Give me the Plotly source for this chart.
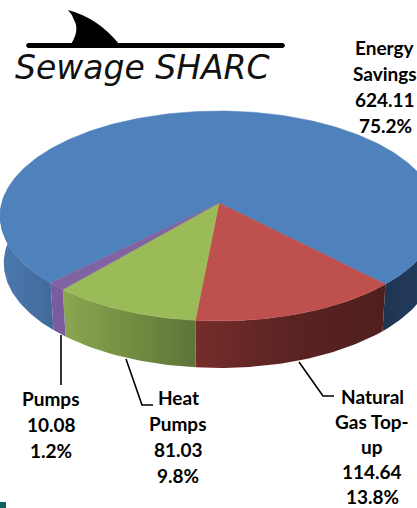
import numpy as np
import plotly.graph_objects as go

categories = ["Energy Savings", "Natural Gas Top-up", "Heat Pumps", "Pumps"]
values = [624.11, 114.64, 81.03, 10.08]
percents = ["75.2%", "13.8%", "9.8%", "1.2%"]
top_colors = ["#4F81BD", "#BE504D", "#9BBB59", "#8064A2"]
label_lines = [["Energy", "Savings"], ["Natural", "Gas Top-", "up"], ["Heat", "Pumps"], ["Pumps"]]
value_text = ["624.11", "114.64", "81.03", "10.08"]

W, H = 417, 508
CX, CY, A, B, K = 219.0, 203.0, 217.3, 103.4, 0.1236
DEPTH, SHRINK = 47.0, 0.983
FIRST_SLICE_ANGLE = 225.0   # clockwise from twelve o'clock


def top(theta):
    u, v = np.cos(theta), np.sin(theta)
    w = 1 + K * v
    return CX + A * u / w, CY - B * v / w


def bottom(theta):
    x, y = top(theta)
    return CX + (x - CX) * SHRINK, y + DEPTH


def arc(a0, a1):
    n = max(4, int(abs(a1 - a0) * 60))
    return np.linspace(a0, a1, n)


fig = go.Figure()


def wall(a0, a1, stops):
    t = arc(a0, a1)
    xt, yt = top(t)
    xb, yb = bottom(t[::-1])
    fig.add_trace(go.Scatter(
        x=np.r_[xt, xb, xt[0]], y=np.r_[yt, yb, yt[0]], mode="lines", fill="toself",
        line=dict(width=0), hoverinfo="skip", showlegend=False,
        fillgradient=dict(type="horizontal", colorscale=stops)))


fractions = np.array(values) / sum(values)
start = np.pi / 2 - np.radians(FIRST_SLICE_ANGLE)
edges = start - np.r_[0, np.cumsum(fractions)] * 2 * np.pi

# side walls: the large slice wraps behind and shows at both ends
wall(edges[0], -np.pi - 0.1, [[0, "#4C79AF"], [1, "#41699B"]])
wall(edges[1], -2 * np.pi + 0.1, [[0, "#1F3450"], [0.5, "#223A5A"], [1, "#263F60"]])
wall(edges[1], edges[2], [[0, "#762D2B"], [0.5, "#5A2322"], [1, "#4F1F1E"]])
wall(edges[2], edges[3], [[0, "#8AA751"], [0.5, "#748D41"], [1, "#5E743A"]])
wall(edges[3], edges[4], [[0, "#7A5C9E"], [1, "#7A5C9E"]])

# top faces
for i, c in enumerate(top_colors):
    t = arc(edges[i], edges[i + 1])
    x, y = top(t)
    fig.add_trace(go.Scatter(
        x=np.r_[CX, x, CX], y=np.r_[CY, y, CY], mode="lines", fill="toself",
        fillcolor=c, line=dict(width=0.5, color=c), hoverinfo="skip", showlegend=False))

# labels, one line at a time (reference leading is wider than Plotly's)
label_anchor = [(385, 47), (372, 396), (178, 397), (51, 398)]
label_leading = [26.2, 25.2, 26.2, 26.2]
annotations = []
for i in range(4):
    lines = label_lines[i] + [value_text[i], percents[i]]
    for j, s in enumerate(lines):
        annotations.append(dict(
            x=label_anchor[i][0], y=label_anchor[i][1] + j * label_leading[i], text=s,
            xref="x", yref="y", showarrow=False, xanchor="center", yanchor="middle",
            font=dict(family="Lato", size=19, color="#000000", weight="bold")))
annotations.append(dict(
    x=142, y=67, text="Sewage SHARC", xref="x", yref="y", showarrow=False,
    xanchor="center", yanchor="middle",
    font=dict(family="DejaVu Sans", size=33, color="#111111", style="italic", weight=300)))

# leader lines
leaders = [
    ([61, 61], [335, 385]),
    ([126, 142, 153], [359, 405, 405]),
    ([299, 323, 334], [362, 396, 396]),
]
for lx, ly in leaders:
    fig.add_trace(go.Scatter(x=lx, y=ly, mode="lines", line=dict(color="#000000", width=1.6),
                             hoverinfo="skip", showlegend=False))

shapes = [
    dict(type="path", fillcolor="#000000", line=dict(width=0),
         path="M28,43 L283,43 Q287,45.5 283,48 L28,48 Q24,45.5 28,43 Z"),
    dict(type="path", fillcolor="#000000", line=dict(width=0),
         path="M68,10 Q98,18 119,44 L71,44 Q80,30 74,20 Q72,14 68,10 Z"),
    dict(type="rect", x0=0, x1=6, y0=502, y1=508, fillcolor="#0F5F5F", line=dict(width=0)),
]

fig.update_layout(
    width=W, height=H, margin=dict(l=0, r=0, t=0, b=0),
    paper_bgcolor="white", plot_bgcolor="white", showlegend=False,
    xaxis=dict(range=[0, W], visible=False, fixedrange=True),
    yaxis=dict(range=[H, 0], visible=False, fixedrange=True),
    annotations=annotations, shapes=shapes,
)
fig.write_html("out.html", config=dict(displayModeBar=False),
               post_script="document.body.style.margin='0';document.documentElement.style.overflow='hidden';")
